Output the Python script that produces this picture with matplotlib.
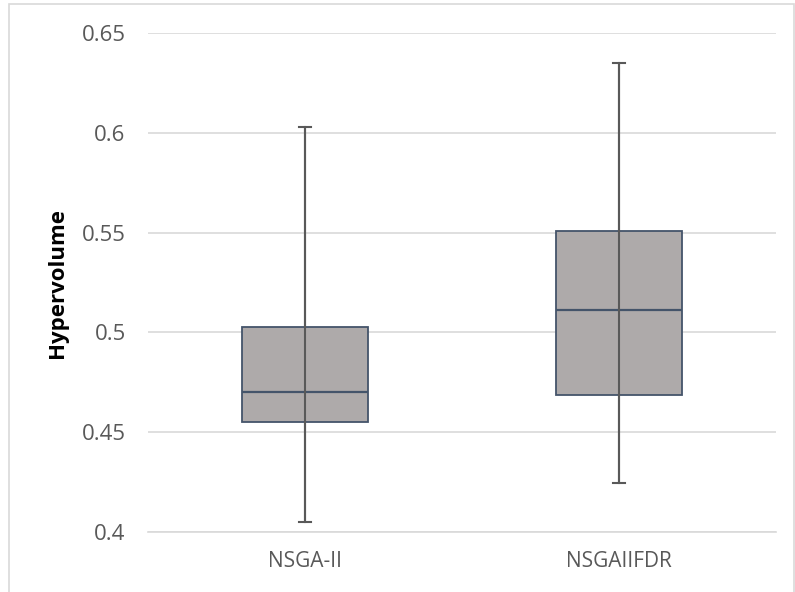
import matplotlib
matplotlib.use("Agg")
import matplotlib.pyplot as plt
from matplotlib.patches import Rectangle

# Summary statistics of hypervolume per algorithm
algorithms = ["NSGA-II", "NSGAIIFDR"]
whisker_low = [0.405, 0.4245]
q1 = [0.455, 0.4688]
median = [0.4701, 0.5112]
q3 = [0.5028, 0.5508]
whisker_high = [0.6032, 0.6348]

yticks = [0.4, 0.45, 0.5, 0.55, 0.6, 0.65]
ytick_labels = ["0.4", "0.45", "0.5", "0.55", "0.6", "0.65"]

plt.rcParams["font.family"] = ["Open Sans", "DejaVu Sans"]

fig = plt.figure(figsize=(7.95, 5.92), dpi=100)
ax = fig.add_axes([0.186, 0.1014, 0.790, 0.8426])

# light chart-area frame
fig.patches.append(Rectangle((9 / 795, -0.01), 785 / 795, 1 - 4 / 592 + 0.01,
                             transform=fig.transFigure, fill=False,
                             edgecolor="#d9d9d9", linewidth=1.2))

positions = [1, 2]
stats = []
for i, name in enumerate(algorithms):
    stats.append(dict(label=name, whislo=whisker_low[i], q1=q1[i], med=median[i],
                      q3=q3[i], whishi=whisker_high[i], fliers=[]))

ax.bxp(stats, positions=positions, widths=0.4, patch_artist=True,
       showfliers=False,
       boxprops=dict(facecolor="#aeaaaa", edgecolor="#44546a", linewidth=1.3),
       medianprops=dict(color="#44546a", linewidth=1.6),
       whiskerprops=dict(color="#595959", linewidth=1.5),
       capprops=dict(color="#595959", linewidth=1.5),
       capwidths=0.038, zorder=2)

# whisker line continues through the box
ax.vlines(positions, whisker_low, whisker_high, color="#595959",
          linewidth=1.5, zorder=3)

ax.set_xlim(0.5, 2.5)
ax.set_ylim(0.4, 0.65)
ax.set_yticks(yticks)
ax.set_yticklabels(ytick_labels)
ax.set_xticks(positions)
ax.set_xticklabels(algorithms)

ax.grid(axis="y", color="#d9d9d9", linewidth=1.2, zorder=0)
ax.set_axisbelow(True)
for s in ax.spines.values():
    s.set_visible(False)
ax.spines["bottom"].set_visible(True)
ax.spines["bottom"].set_color("#d9d9d9")
ax.spines["bottom"].set_linewidth(1.2)

ax.tick_params(axis="y", length=0, pad=16, labelsize=16, labelcolor="#595959")
ax.tick_params(axis="x", length=0, pad=14, labelsize=15, labelcolor="#595959")

ax.set_ylabel("Hypervolume", fontsize=16, fontweight="bold", color="black")
ax.yaxis.set_label_coords(-0.127, 0.5)

fig.savefig("out.png", dpi=100)
